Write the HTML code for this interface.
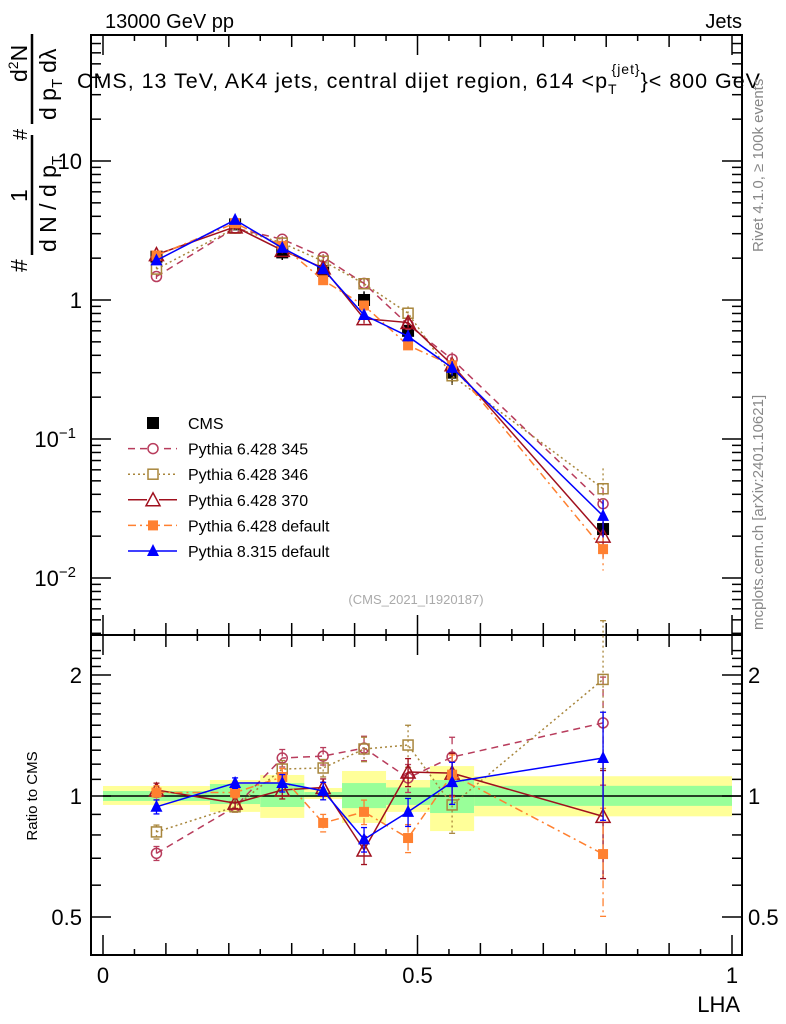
<!DOCTYPE html>
<html><head><meta charset="utf-8"><style>
body{margin:0;background:#fff}
svg{display:block;font-family:"Liberation Sans",sans-serif}
</style></head><body>
<svg id="c" width="786" height="1024" viewBox="0 0 786 1024"></svg>
<script>
const edges=[0,0.17,0.25,0.32,0.38,0.45,0.52,0.59,1.0];
const centers=[0.085,0.21,0.285,0.35,0.415,0.485,0.555,0.795];
const cms=[2.05,3.5,2.2,1.62,1.0,0.6,0.3,0.0225];
const bandYellowUp=[1.059,1.096,1.128,1.047,1.154,1.096,1.187,1.12];
const bandYellowDn=[0.95,0.913,0.882,0.983,0.857,0.913,0.818,0.89];
const bandGreenUp=[1.029,1.071,1.077,1.023,1.077,1.05,1.096,1.06];
const bandGreenDn=[0.972,0.955,0.939,0.994,0.933,0.95,0.907,0.945];
const r345=[0.72,0.94,1.243,1.257,1.316,1.109,1.25,1.52];
const r346=[0.814,0.94,1.167,1.174,1.309,1.339,0.95,1.95];
const r370=[1.035,0.96,1.035,1.05,0.734,1.147,1.14,0.89];
const r6def=[1.02,1.02,1.115,0.857,0.913,0.786,1.13,0.717];
const r8def=[0.94,1.077,1.077,1.03,0.78,0.913,1.083,1.243];
const e345=[0.04,0.03,0.05,0.05,0.07,0.08,0.12,0.3];
const e346=[0.04,0.03,0.05,0.05,0.07,0.12,0.15,0.4];
const e370=[0.04,0.03,0.05,0.05,0.08,0.08,0.12,0.3];
const e6def=[0.04,0.03,0.05,0.05,0.07,0.08,0.12,0.3];
const e8def=[0.04,0.03,0.05,0.05,0.07,0.08,0.12,0.3];
const mainTicks=["10","1","10\u22121","10\u22122"];
const ratioTicks=[2,1,0.5];
const xTicks=[0,0.5,1];

const X=v=>103+629*v;
const Ym=v=>300-139*Math.log10(v);
const Yr=r=>796-121*Math.log2(r);
const svg=document.getElementById('c');
const NS='http://www.w3.org/2000/svg';
function el(t,a,p){const e=document.createElementNS(NS,t);for(const k in a)e.setAttribute(k,a[k]);(p||svg).appendChild(e);return e;}
function txt(s,a,p){const e=el('text',a,p);e.textContent=s;return e;}

edges.slice(0,-1).forEach((e0,i)=>{
 const r=el('rect',{x:X(e0),y:Yr(bandYellowUp[i]),width:X(edges[i+1])-X(e0),height:Yr(bandYellowDn[i])-Yr(bandYellowUp[i]),fill:'#ffff99'});
 
 
 const g=el('rect',{x:X(e0),y:Yr(bandGreenUp[i]),width:X(edges[i+1])-X(e0),height:Yr(bandGreenDn[i])-Yr(bandGreenUp[i]),fill:'#99ff99'});
 
 
});
el('line',{x1:X(0),x2:742,y1:Yr(1),y2:Yr(1),stroke:'#000','stroke-width':1.5});

const f1=el('rect',{x:91,y:35,width:651,height:600,fill:'none',stroke:'#000','stroke-width':2});

const f2=el('rect',{x:91,y:635,width:651,height:320,fill:'none',stroke:'#000','stroke-width':2});


for(let d=-3;d<=1;d++){for(let m=1;m<10;m++){const v=m*Math.pow(10,d);const y=Ym(v);if(y<36||y>634)continue;const L=m==1?20:10;el('line',{x1:91,x2:91+L,y1:y,y2:y,stroke:'#000','stroke-width':1.5});el('line',{x1:742,x2:742-L,y1:y,y2:y,stroke:'#000','stroke-width':1.5});}}
const mv=[10,1,0.1,0.01];
mainTicks.forEach((t,i)=>{const y=Ym(mv[i]);
 if(t.indexOf('\u2212')>0){const g=txt('',{x:76,y:y+8,'text-anchor':'end','font-size':22,});
  const a=el('tspan',{},g);a.textContent='10';const b=el('tspan',{dy:-9,'font-size':15},g);b.textContent=t.slice(2);}
 else txt(t,{x:82,y:y+8,'text-anchor':'end','font-size':22,});});
for(let r=0.4;r<=2.35;r+=0.1){const y=Yr(r);if(y<636||y>954)continue;const big=[0.5,1,2].some(v=>Math.abs(v-r)<1e-6);const L=big?20:10;el('line',{x1:91,x2:91+L,y1:y,y2:y,stroke:'#000','stroke-width':1.5});el('line',{x1:742,x2:742-L,y1:y,y2:y,stroke:'#000','stroke-width':1.5});}
ratioTicks.forEach(r=>{const y=Yr(r);
 txt(String(r),{x:82,y:y+8,'text-anchor':'end','font-size':22,});
 txt(String(r),{x:748,y:y+8,'font-size':22,});});
for(let i=0;i<=20;i++){const v=i*0.05;const x=X(v);const L=i%10==0?20:(i%2==0?12:6);
 el('line',{x1:x,x2:x,y1:955,y2:955-L,stroke:'#000','stroke-width':1.5});el('line',{x1:x,x2:x,y1:635,y2:635-L,stroke:'#000','stroke-width':1.5});
 el('line',{x1:x,x2:x,y1:35,y2:35+L,stroke:'#000','stroke-width':1.5});el('line',{x1:x,x2:x,y1:635,y2:635+L,stroke:'#000','stroke-width':1.5});}
xTicks.forEach(v=>txt(String(v),{x:X(v),y:983,'text-anchor':'middle','font-size':22,}));

const series=[
 {n:'pythia-6428-345',r:r345,e:e345,c:'#b83c5c',d:'7,5',m:'circle'},
 {n:'pythia-6428-346',r:r346,e:e346,c:'#a8863c',d:'2,3',m:'osquare'},
 {n:'pythia-6428-370',r:r370,e:e370,c:'#a0101e',d:'',m:'otri'},
 {n:'pythia-6428-default',r:r6def,e:e6def,c:'#ff8030',d:'8,4,2,4',m:'fsquare'},
 {n:'pythia-8315-default',r:r8def,e:e8def,c:'#0000ff',d:'',m:'ftri'}];
function marker(m,x,y,c,g,s){s=s||1;
 if(m=='circle')el('circle',{cx:x,cy:y,r:5*s,fill:'none',stroke:c,'stroke-width':1.5},g);
 if(m=='osquare')el('rect',{x:x-5*s,y:y-5*s,width:10*s,height:10*s,fill:'none',stroke:c,'stroke-width':1.5},g);
 if(m=='fsquare')el('rect',{x:x-5*s,y:y-5*s,width:10*s,height:10*s,fill:c},g);
 if(m=='bsquare')el('rect',{x:x-6,y:y-6,width:12,height:12,fill:c},g);
 if(m=='otri')el('polygon',{points:`${x},${y-7*s} ${x-7*s},${y+6*s} ${x+7*s},${y+6*s}`,fill:'none',stroke:c,'stroke-width':1.5},g);
 if(m=='ftri')el('polygon',{points:`${x},${y-7*s} ${x-6*s},${y+5*s} ${x+6*s},${y+5*s}`,fill:c},g);}
const gc=el('g',{});
cms.forEach((v,i)=>{const y1=Ym(v*bandYellowUp[i]),y2=Ym(v*bandYellowDn[i]);el('line',{x1:X(centers[i]),x2:X(centers[i]),y1:y1,y2:y2,stroke:'#000','stroke-width':1.5},gc);marker('bsquare',X(centers[i]),Ym(v),'#000',gc);});
series.forEach(s=>{
 const gm=el('g',{});
 const gr=el('g',{});
 const pm=centers.map((c,i)=>X(c)+','+Ym(cms[i]*s.r[i])).join(' ');
 const pr=centers.map((c,i)=>X(c)+','+Yr(s.r[i])).join(' ');
 el('polyline',{points:pm,fill:'none',stroke:s.c,'stroke-width':1.5,'stroke-dasharray':s.d},gm);
 el('polyline',{points:pr,fill:'none',stroke:s.c,'stroke-width':1.5,'stroke-dasharray':s.d},gr);
 centers.forEach((c,i)=>{const x=X(c);const r=s.r[i],e=s.e[i];
  el('line',{x1:x,x2:x,y1:Ym(cms[i]*r*(1+e)),y2:Ym(cms[i]*r*(1-e)),stroke:s.c,'stroke-width':1.3,'stroke-dasharray':s.d},gm);
  el('line',{x1:x,x2:x,y1:Yr(r*(1+e)),y2:Yr(r*(1-e)),stroke:s.c,'stroke-width':1.3,'stroke-dasharray':s.d},gr);
  [r*(1+e),r*(1-e)].forEach(v=>el('line',{x1:x-3,x2:x+3,y1:Yr(v),y2:Yr(v),stroke:s.c,'stroke-width':1.3},gr));
  marker(s.m,x,Ym(cms[i]*r),s.c,gm);marker(s.m,x,Yr(r),s.c,gr);});
});
const legNames=['CMS','Pythia 6.428 345','Pythia 6.428 346','Pythia 6.428 370','Pythia 6.428 default','Pythia 8.315 default'];
const gl=el('g',{});
legNames.forEach((n,i)=>{const y=423+25.6*i;
 const g=el('g',{},gl);
 if(i==0)marker('bsquare',153,y,'#000',g);else{const s=series[i-1];el('line',{x1:128,x2:177,y1:y,y2:y,stroke:s.c,'stroke-width':1.5,'stroke-dasharray':s.d},g);if(s.m=='circle'||s.m=='osquare'||s.m=='otri')el('rect',{x:147,y:y-6,width:12,height:12,fill:'#fff'},g);marker(s.m,153,y,s.c,g);}
 txt(n,{x:188,y:y+6,'font-size':16},g);});
</script>
<svg style="position:absolute;left:0;top:0" width="786" height="1024" font-family="Liberation Sans, sans-serif">
<text x="105" y="28" font-size="20">13000 GeV pp</text>
<text x="742" y="28" font-size="20" text-anchor="end">Jets</text>
<text x="77" y="88" font-size="21.5" textLength="683">CMS, 13 TeV, AK4 jets, central dijet region, 614 &lt;p<tspan dy="6" font-size="14">T</tspan><tspan dy="-20" dx="-6" font-size="14">{jet}</tspan><tspan dy="14">}&lt; 800 GeV</tspan></text>
<text x="416" y="604" font-size="13" fill="#aaaaaa" text-anchor="middle">(CMS_2021_I1920187)</text>
<text transform="translate(763,252) rotate(-90)" font-size="15" fill="#888">Rivet 4.1.0, ≥ 100k events</text>
<text transform="translate(763,630) rotate(-90)" font-size="15" fill="#888">mcplots.cern.ch [arXiv:2401.10621]</text>
<text x="740" y="1012" font-size="22" text-anchor="end">LHA</text>
<text transform="translate(37,796) rotate(-90)" font-size="15" text-anchor="middle">Ratio to CMS</text>
<g transform="translate(0,272) rotate(-90)" font-size="23">
<text x="0" y="27">#</text>
<line x1="17" x2="137" y1="32" y2="32" stroke="#000" stroke-width="2.5"/>
<text x="70" y="27">1</text>
<text x="20" y="56">d N / d p<tspan dy="6" font-size="15">T</tspan></text>
<text x="132" y="27" font-size="20">#</text>
<line x1="148" x2="238" y1="32" y2="32" stroke="#000" stroke-width="2.5"/>
<text x="190" y="27">d<tspan dy="-9" font-size="14">2</tspan><tspan dy="9">N</tspan></text>
<text x="152" y="56">d p<tspan dy="6" font-size="15">T</tspan><tspan dy="-6" dx="6">d&#955;</tspan></text>
</g>
</svg>
</body></html>
